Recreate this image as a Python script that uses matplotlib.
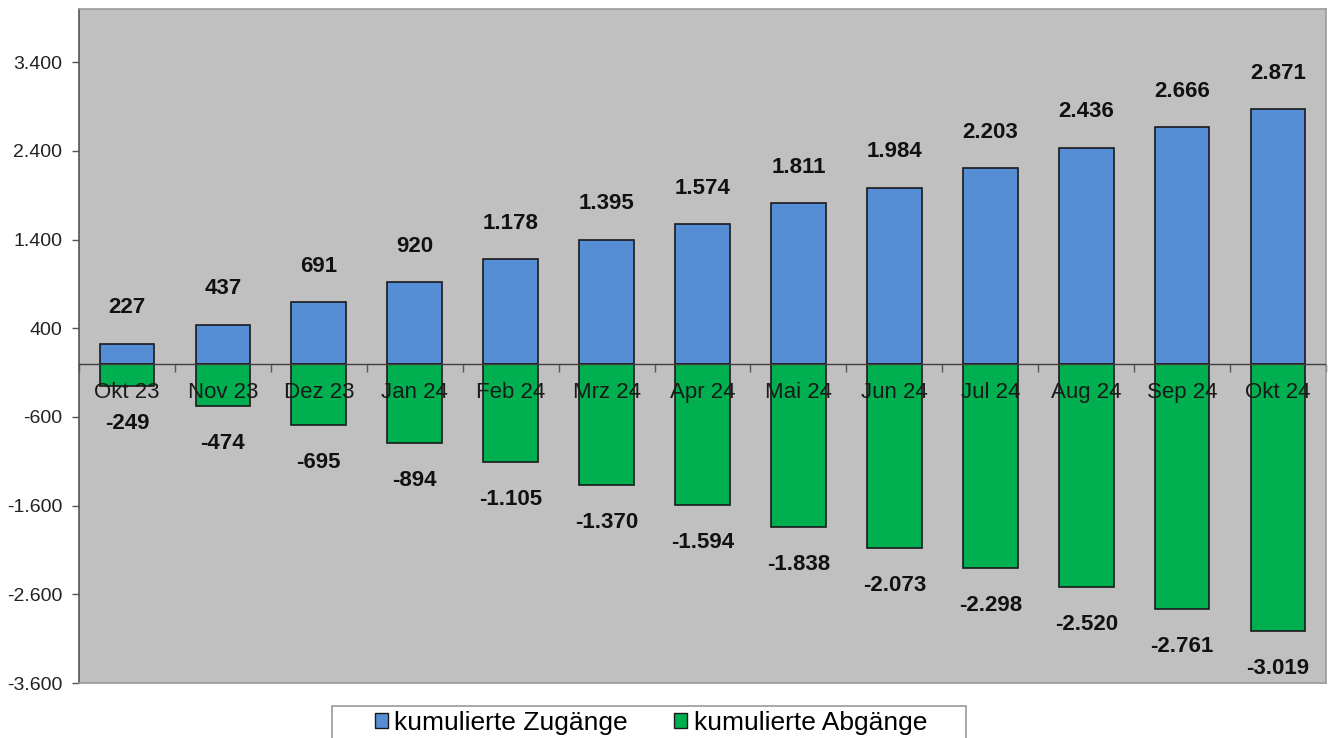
import matplotlib
matplotlib.use("Agg")
import matplotlib.pyplot as plt
import numpy as np
from matplotlib.patches import Patch, Rectangle

categories = ["Okt 23", "Nov 23", "Dez 23", "Jan 24", "Feb 24", "Mrz 24", "Apr 24",
              "Mai 24", "Jun 24", "Jul 24", "Aug 24", "Sep 24", "Okt 24"]
zugaenge = [227, 437, 691, 920, 1178, 1395, 1574, 1811, 1984, 2203, 2436, 2666, 2871]
abgaenge = [-249, -474, -695, -894, -1105, -1370, -1594, -1838, -2073, -2298, -2520, -2761, -3019]
yticks = [-3600, -2600, -1600, -600, 400, 1400, 2400, 3400]
series_names = ["kumulierte Zugänge", "kumulierte Abgänge"]

plt.rcParams['font.family'] = ['Liberation Sans', 'DejaVu Sans']

def de_fmt(v):
    s = f"{abs(v):,}".replace(",", ".")
    return ("-" if v < 0 else "") + s

fig = plt.figure(figsize=(13.33, 7.38), dpi=100)
W, H = 1333, 738
ax = fig.add_axes([79 / W, 1 - 683 / H, (1326 - 79) / W, (683 - 9) / H])
ax.set_facecolor("#C0C0C0")

x = np.arange(len(categories))
bw = 0.57
blue = "#558ED5"
green = "#00B050"
ax.bar(x, zugaenge, width=bw, color=blue, edgecolor="#1a1a1a", linewidth=1.2, zorder=2)
ax.bar(x, abgaenge, width=bw, color=green, edgecolor="#1a1a1a", linewidth=1.2, zorder=2)
ax.axhline(0, color="#404040", linewidth=1.0, zorder=3)

ax.set_xlim(-0.5, len(categories) - 0.5)
ax.set_ylim(-3600, 4000)
ax.set_yticks(yticks)
ax.set_yticklabels([de_fmt(v) for v in yticks], fontsize=14, color="#222222")
ax.tick_params(axis='y', length=5, width=1, color="#555555", pad=7)
ax.set_xticks([])

for s in ["top", "right", "bottom"]:
    ax.spines[s].set_color("#9a9a9a")
    ax.spines[s].set_linewidth(1.2)
ax.spines["left"].set_color("#555555")
ax.spines["left"].set_linewidth(1.2)

# category tick marks at zero line
sec = ax.secondary_xaxis(3600 / 7600)
sec.set_xticks([])
sec.set_xticks(np.arange(len(categories) + 1) - 0.5, minor=True)
sec.tick_params(axis='x', which='minor', length=6, width=1, color="#555555", direction="out")
sec.spines["bottom"].set_visible(False)

for xi, c in zip(x, categories):
    ax.annotate(c, (xi, 0), xytext=(0, -21), textcoords="offset points",
                ha="center", va="center", fontsize=16, color="#1a1a1a", zorder=6)

for xi, v in zip(x, zugaenge):
    ax.annotate(de_fmt(v), (xi, v), xytext=(0, 26), textcoords="offset points",
                ha="center", va="center", fontsize=16, fontweight="bold", color="#111111")
for xi, v in zip(x, abgaenge):
    ax.annotate(de_fmt(v), (xi, v), xytext=(0, -27), textcoords="offset points",
                ha="center", va="center", fontsize=16, fontweight="bold", color="#111111")

handles = [Patch(facecolor=blue, edgecolor="#1a1a1a"), Patch(facecolor=green, edgecolor="#1a1a1a")]
leg = fig.legend(handles, series_names, loc="center", bbox_to_anchor=(651 / W, 1 - 723 / H),
                 ncol=2, fontsize=19, frameon=False,
                 handlelength=0.5, handleheight=0.5, handletextpad=0.25, columnspacing=1.75,
                 borderpad=0.2)
fig.patches.append(Rectangle((332 / W, 1 - 742 / H), (966 - 332) / W, (742 - 706) / H,
                             transform=fig.transFigure, facecolor="white",
                             edgecolor="#9a9a9a", linewidth=1.2, zorder=0))

fig.savefig("out.png", dpi=100)
